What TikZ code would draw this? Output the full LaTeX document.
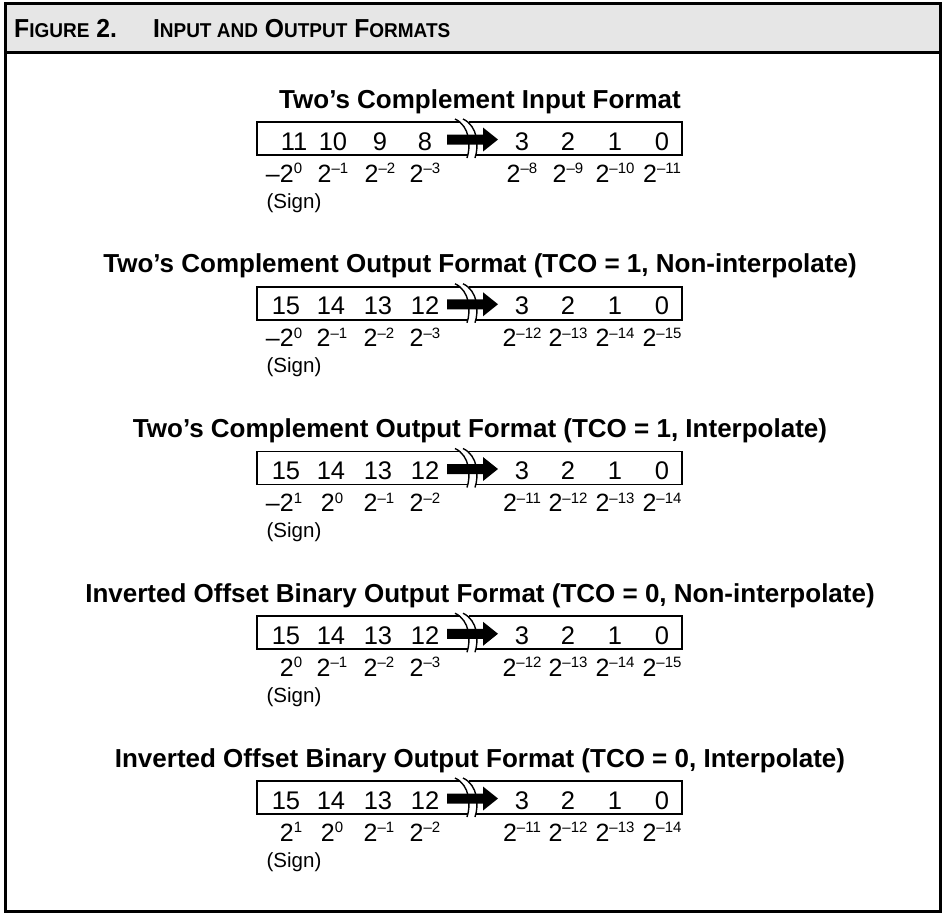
\documentclass[tikz,border=0pt]{standalone}
\usepackage{fontspec}
\setmainfont{Liberation Sans}
\usepackage{graphicx}
\usepackage[HTML]{xcolor}
\usepackage{tikz}
\usetikzlibrary{positioning}

\definecolor{headgray}{HTML}{E6E6E6}
\newcommand{\pwr}[1]{2\raisebox{8.5pt}{\fontsize{15}{15}\selectfont #1}}
\newcommand{\hsc}[1]{{\fontsize{20}{21}\selectfont #1}}

\begin{document}
\begin{tikzpicture}[x=1pt, y=-1pt,
    title/.style={font=\fontsize{26}{30}\selectfont\bfseries, anchor=base, inner sep=0pt},
    bit/.style={font=\fontsize{25.5}{29}\selectfont, anchor=base, inner sep=0pt},
    weight/.style={font=\fontsize{25}{29}\selectfont, anchor=base, inner sep=0pt},
    note/.style={font=\fontsize{20.5}{24}\selectfont, anchor=base, inner sep=0pt},
    regline/.style={line width=1.8pt},
    breakline/.style={line width=1.4pt}]

    \useasboundingbox (0,0) rectangle (943,914);

    % 1. Frame and heading
    \fill[headgray] (5,3) rectangle (940,52);
    \draw[line width=3pt] (5,52) -- (940,52);
    \draw[line width=3pt] (5,3) rectangle (940,911);
    \node (head) [anchor=base west, inner sep=0pt, font=\fontsize{26}{30}\selectfont\bfseries] at (14,37)
        {\scalebox{0.95}[1]{F\hsc{IGURE} 2.\hspace{38pt}I\hsc{NPUT AND} O\hsc{UTPUT} F\hsc{ORMATS}}};

    % 2. Register outlines, break marks and the low bits
    \foreach \k in {1,...,5} {
        \begin{scope}[shift={(0,{164.75*(\k-1)})}]
            \draw[regline] (460,122) -- (257,122) -- (257,155) -- (468,155);
            \draw[regline] (469,122) -- (682,122) -- (682,155) -- (476,155);
            \draw[breakline] (455,119) .. controls (470,126) and (471,146) .. (467,158);
            \draw[breakline] (463,119) .. controls (478,126) and (479,146) .. (475,158);
            \fill (447,134.5) -- (483,134.5) -- (483,127.5) -- (498,139.5) -- (483,151.5) -- (483,144.5) -- (447,144.5) -- cycle;
            \foreach \b/\x in {3/522, 2/568, 1/615, 0/662}
                \node (r\k-\b) [bit] at (\x,150) {\b};
        \end{scope}
    }

    % 3. Two's complement input
    \node (t1) [title] at (480,108) {Two’s Complement Input Format};
    \foreach \b/\x in {11/294, 10/333, 9/380, 8/425}
        \node (b1-\b) [bit] at (\x,150) {\b};
    \node (w1-0) [weight] at (291,182) {\llap{–}\pwr{0}};
    \foreach \e/\x in {1/333, 2/380, 3/425, 8/522, 9/568, 10/615, 11/662}
        \node (w1-\e) [weight] at (\x,182) {\pwr{–\e}};
    \node (s1) [note] at (294,208) {(Sign)};

    % 4. Two's complement output, non-interpolate
    \begin{scope}[shift={(0,164.75)}]
        \node (t2) [title] at (480,108) {Two’s Complement Output Format (TCO = 1, Non-interpolate)};
        \foreach \b/\x in {15/286, 14/331, 13/378, 12/425}
            \node (b2-\b) [bit] at (\x,150) {\b};
        \node (w2-0) [weight] at (291,182) {\llap{–}\pwr{0}};
        \foreach \e/\x in {1/332, 2/379, 3/425, 12/522, 13/568, 14/615, 15/662}
            \node (w2-\e) [weight] at (\x,182) {\pwr{–\e}};
        \node (s2) [note] at (294,208) {(Sign)};
    \end{scope}

    % 5. Two's complement output, interpolate
    \begin{scope}[shift={(0,329.5)}]
        \node (t3) [title] at (480,108) {Two’s Complement Output Format (TCO = 1, Interpolate)};
        \foreach \b/\x in {15/286, 14/331, 13/378, 12/425}
            \node (b3-\b) [bit] at (\x,150) {\b};
        \node (w3-a) [weight] at (291,182) {\llap{–}\pwr{1}};
        \node (w3-0) [weight] at (332,182) {\pwr{0}};
        \foreach \e/\x in {1/379, 2/425, 11/522, 12/568, 13/615, 14/662}
            \node (w3-\e) [weight] at (\x,182) {\pwr{–\e}};
        \node (s3) [note] at (294,208) {(Sign)};
    \end{scope}

    % 6. Inverted offset binary, non-interpolate
    \begin{scope}[shift={(0,494.25)}]
        \node (t4) [title] at (480,108) {Inverted Offset Binary Output Format (TCO = 0, Non-interpolate)};
        \foreach \b/\x in {15/286, 14/331, 13/378, 12/425}
            \node (b4-\b) [bit] at (\x,150) {\b};
        \node (w4-0) [weight] at (291,182) {\pwr{0}};
        \foreach \e/\x in {1/332, 2/379, 3/425, 12/522, 13/568, 14/615, 15/662}
            \node (w4-\e) [weight] at (\x,182) {\pwr{–\e}};
        \node (s4) [note] at (294,208) {(Sign)};
    \end{scope}

    % 7. Inverted offset binary, interpolate
    \begin{scope}[shift={(0,659)}]
        \node (t5) [title] at (480,108) {Inverted Offset Binary Output Format (TCO = 0, Interpolate)};
        \foreach \b/\x in {15/286, 14/331, 13/378, 12/425}
            \node (b5-\b) [bit] at (\x,150) {\b};
        \node (w5-a) [weight] at (291,182) {\pwr{1}};
        \node (w5-0) [weight] at (332,182) {\pwr{0}};
        \foreach \e/\x in {1/379, 2/425, 11/522, 12/568, 13/615, 14/662}
            \node (w5-\e) [weight] at (\x,182) {\pwr{–\e}};
        \node (s5) [note] at (294,208) {(Sign)};
    \end{scope}

\end{tikzpicture}
\end{document}
